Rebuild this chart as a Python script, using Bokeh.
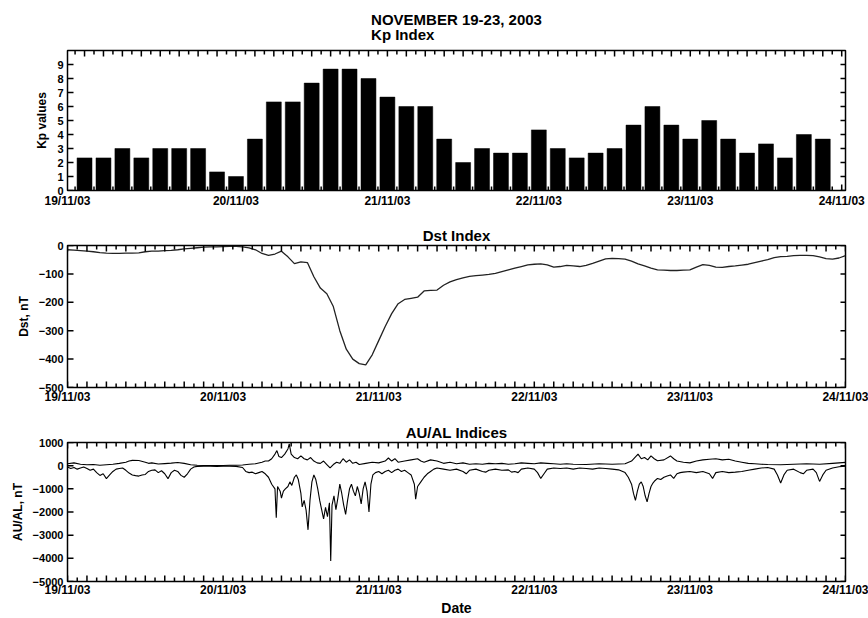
from bokeh.plotting import figure
from bokeh.models import FixedTicker, Range1d
from bokeh.layouts import column
from bokeh.embed import file_html
from bokeh.resources import INLINE

FONT = "Liberation Sans"

main_title = "NOVEMBER 19-23, 2003"
panel_titles = ["Kp Index", "Dst Index", "AU/AL Indices"]
y_labels = ["Kp values", "Dst, nT", "AU/AL, nT"]
x_label = "Date"
day_labels = ["19/11/03", "20/11/03", "21/11/03", "22/11/03", "23/11/03", "24/11/03"]

# Kp, 3-hourly, 19-23 Nov 2003 (40 bars)
kp_values = [2.33, 2.33, 3.0, 2.33, 3.0, 3.0, 3.0, 1.33,
             1.0, 3.67, 6.33, 6.33, 7.67, 8.67, 8.67, 8.0,
             6.67, 6.0, 6.0, 3.67, 2.0, 3.0, 2.67, 2.67,
             4.33, 3.0, 2.33, 2.67, 3.0, 4.67, 6.0, 4.67,
             3.67, 5.0, 3.67, 2.67, 3.33, 2.33, 4.0, 3.67]
kp_index = list(range(len(kp_values)))
kp_day_positions = [-0.9, 8, 16, 24, 32, 40]

# Dst, hourly (hours since 19 Nov 00 UT)
dst_values = [-15, -16, -18, -20, -22, -25, -27, -28, -28, -27, -27, -26,
              -22, -20, -20, -18, -17, -15, -12, -10, -8, -6, -5, -5,
              -4, -3, -3, -5, -8, -15, -28, -35, -30, -20, -40, -64,
              -58, -60, -110, -150, -170, -215, -300, -365, -400, -416, -420, -385,
              -335, -285, -240, -205, -190, -186, -182, -160, -158, -157, -140, -128,
              -120, -114, -109, -106, -104, -102, -98, -92, -86, -80, -74, -68,
              -66, -65, -68, -76, -74, -70, -72, -74, -70, -63, -55, -47,
              -45, -46, -48, -55, -65, -72, -80, -86, -87, -88, -88, -87,
              -86, -76, -67, -70, -76, -77, -74, -72, -69, -66, -60, -55,
              -50, -43, -39, -38, -36, -35, -35, -36, -40, -46, -48, -44, -36]
dst_hours = list(range(len(dst_values)))

# AL (hour, nT)
al_series = [(0, -60), (0.5, -120), (1, -80), (1.5, -150), (2, -100), (2.5, -60), (3, -120),
             (3.5, -200), (4, -150), (4.5, -300), (5, -420), (5.5, -350), (6, -560), (6.5, -400),
             (7, -250), (7.5, -150), (8, -120), (8.5, -100), (9, -200), (9.5, -320), (10, -400),
             (10.5, -430), (11, -450), (11.5, -400), (12, -380), (12.5, -250), (13, -200),
             (13.5, -180), (14, -300), (14.5, -220), (15, -350), (15.5, -560), (16, -300),
             (16.5, -200), (17, -250), (17.5, -420), (18, -500), (18.5, -350), (19, -150),
             (19.5, -60), (20, -30), (21, -20), (22, -20), (23, -30), (24, -20), (25, -20),
             (26, -30), (27, -80), (27.5, -250), (28, -300), (28.5, -280), (29, -350),
             (29.5, -300), (30, -250), (30.5, -350), (31, -500), (31.5, -800), (32, -1000),
             (32.2, -2250), (32.4, -900), (32.8, -1100), (33, -1400), (33.3, -1100),
             (33.6, -1000), (34, -900), (34.3, -700), (34.6, -850), (35, -500), (35.3, -400),
             (35.6, -600), (36, -1200), (36.2, -1780), (36.5, -1500), (36.8, -1920),
             (37.1, -2770), (37.4, -1500), (37.7, -700), (38, -400), (38.3, -600),
             (38.6, -1000), (38.9, -1500), (39.2, -1900), (39.5, -2300), (39.8, -1800),
             (40.1, -2200), (40.4, -1600), (40.6, -4110), (40.8, -1700), (41.1, -1300),
             (41.4, -1900), (41.7, -1400), (42, -800), (42.3, -1200), (42.6, -1700),
             (42.9, -2100), (43.2, -1500), (43.5, -1000), (43.8, -800), (44.1, -1100),
             (44.4, -1300), (44.7, -900), (45, -1200), (45.3, -1650), (45.6, -1000),
             (45.9, -700), (46.2, -1100), (46.5, -2000), (46.8, -800), (47.1, -400),
             (47.5, -300), (48, -250), (48.5, -350), (49, -250), (49.5, -200), (50, -300),
             (50.5, -200), (51, -150), (51.5, -250), (52, -200), (52.5, -300), (53, -400),
             (53.5, -800), (53.7, -1450), (54, -900), (54.5, -700), (55, -500), (55.5, -350),
             (56, -250), (56.5, -150), (57, -100), (58, -150), (59, -200), (60, -150),
             (61, -250), (61.5, -350), (62, -200), (63, -150), (64, -250), (64.5, -280),
             (65, -200), (66, -150), (67, -200), (68, -180), (68.5, -280), (69, -250),
             (69.5, -300), (70, -150), (71, -100), (72, -150), (72.5, -300), (73, -550),
             (73.5, -350), (74, -150), (75, -100), (76, -120), (77, -100), (78, -150),
             (79, -100), (80, -120), (81, -150), (82, -100), (83, -120), (84, -150),
             (85, -180), (86, -300), (86.5, -500), (87, -800), (87.3, -1200), (87.6, -1500),
             (87.9, -1100), (88.2, -800), (88.5, -700), (88.8, -900), (89.1, -1300),
             (89.4, -1560), (89.7, -1200), (90, -900), (90.3, -750), (90.6, -650),
             (91, -550), (91.5, -600), (92, -500), (92.5, -450), (93, -400), (93.5, -550),
             (94, -350), (94.5, -300), (95, -280), (96, -250), (97, -300), (98, -250),
             (99, -350), (99.5, -550), (100, -300), (101, -250), (102, -300), (103, -280),
             (104, -250), (105, -200), (106, -150), (107, -100), (108, -80), (109, -150),
             (109.5, -400), (110, -750), (110.5, -400), (111, -200), (112, -150),
             (113, -300), (113.5, -350), (114, -200), (115, -150), (115.5, -300),
             (116, -680), (116.5, -400), (117, -200), (118, -100), (119, -50), (120, -20)]

# AU (hour, nT)
au_series = [(0, 80), (1, 120), (2, 60), (3, 40), (4, 50), (5, 20), (6, 40), (7, 60), (8, 100),
             (9, 150), (9.5, 200), (10, 230), (11, 220), (12, 150), (12.5, 100), (13, 120),
             (14, 70), (15, 90), (16, 110), (17, 140), (18, 100), (19, 40), (20, 20), (21, 10),
             (22, 10), (23, 10), (24, 10), (25, 20), (26, 20), (27, 30), (28, 60), (29, 80),
             (30, 150), (30.5, 200), (31, 200), (31.5, 300), (32, 500), (32.3, 650),
             (32.6, 400), (33, 350), (33.5, 500), (34, 720), (34.2, 940), (34.5, 500),
             (35, 350), (35.5, 300), (36, 420), (36.5, 300), (37, 250), (37.5, 350),
             (38, 200), (38.5, 120), (39, 100), (39.5, 200), (40, 50), (40.5, -100),
             (41, 50), (41.5, 150), (42, 100), (42.5, 300), (43, 150), (43.5, 250),
             (44, 100), (44.5, 150), (45, 50), (46, 100), (47, 150), (48, 120), (49, 200),
             (49.5, 330), (50, 200), (50.5, 300), (51, 150), (52, 200), (53, 250), (54, 300),
             (54.5, 200), (55, 150), (56, 250), (57, 200), (58, 100), (59, 150), (60, 80),
             (61, 120), (62, 60), (63, 80), (64, 60), (65, 100), (66, 80), (67, 100),
             (68, 60), (69, 80), (70, 120), (71, 100), (72, 80), (73, 120), (74, 100),
             (75, 80), (76, 60), (77, 80), (78, 60), (80, 50), (82, 80), (84, 60), (86, 80),
             (87, 200), (87.5, 350), (88, 500), (88.5, 300), (89, 350), (89.5, 250),
             (90, 420), (90.5, 300), (91, 210), (92, 250), (93, 420), (93.5, 300), (94, 200),
             (95, 150), (96, 120), (97, 200), (98, 250), (99, 280), (100, 300), (101, 250),
             (102, 280), (103, 200), (104, 150), (105, 100), (106, 80), (107, 60), (108, 50),
             (110, 40), (112, 60), (114, 80), (116, 60), (118, 100), (120, 140)]

al_hours = [t for t, v in al_series]
al_values = [v for t, v in al_series]
au_hours = [t for t, v in au_series]
au_values = [v for t, v in au_series]

dst_yticks = [-500, -400, -300, -200, -100, 0]
auel_yticks = [-5000, -4000, -3000, -2000, -1000, 0, 1000]
kp_yticks = list(range(10))

# tick positions along the time axes (hours) and along the Kp bar index
h_long = list(range(0, 121, 3))
h_short = [1.5 + 3 * k for k in range(40)]
kp_long = list(range(0, 41))
kp_short = [i + 0.5 for i in range(-1, 40)]
day_ticks = [24 * i for i in range(6)]

W = 868
LEFT = 67
RIGHT = 23
FRAME_W = W - LEFT - RIGHT


def style_axis(ax, size):
    ax.major_tick_in = 0
    ax.major_tick_out = 0
    ax.minor_tick_in = 0
    ax.minor_tick_out = 0
    ax.major_tick_line_color = None
    ax.minor_tick_line_color = None
    ax.axis_line_color = "black"
    ax.axis_line_width = 1
    ax.major_label_text_font = FONT
    ax.major_label_text_font_style = "bold"
    ax.major_label_text_color = "black"
    ax.major_label_text_font_size = size
    ax.major_label_standoff = 4
    ax.axis_label_text_font = FONT
    ax.axis_label_text_font_style = "bold"
    ax.axis_label_text_color = "black"


def make_fig(height, top, bottom, xr, yr, title, title_standoff):
    p = figure(width=W, height=height, x_range=Range1d(*xr), y_range=Range1d(*yr),
               output_backend="svg", toolbar_location=None, title=title,
               min_border_left=LEFT, min_border_right=RIGHT,
               min_border_top=top, min_border_bottom=bottom)
    p.grid.visible = False
    p.outline_line_color = "black"
    p.outline_line_width = 1.5
    p.background_fill_color = "white"
    p.border_fill_color = "white"
    p.title.align = "center"
    p.title.text_font = FONT
    p.title.text_font_size = "15px"
    p.title.text_font_style = "bold"
    p.title.text_color = "black"
    p.title.standoff = title_standoff
    return p


def add_inward_ticks(p, xr, yr, frame_h, x_long, x_short, y_ticks):
    """Inward-pointing tick marks on all four frame edges (IDL style)."""
    dy = (yr[1] - yr[0]) / frame_h
    dx = (xr[1] - xr[0]) / FRAME_W
    xs = x_long + x_short
    lens = [6] * len(x_long) + [4] * len(x_short)
    x0, y0, x1, y1 = [], [], [], []
    for x, L in zip(xs, lens):
        x0 += [x, x]
        x1 += [x, x]
        y0 += [yr[0], yr[1]]
        y1 += [yr[0] + L * dy, yr[1] - L * dy]
    for y in y_ticks:
        x0 += [xr[0], xr[1]]
        x1 += [xr[0] + 6 * dx, xr[1] - 5 * dx]
        y0 += [y, y]
        y1 += [y, y]
    p.segment(x0=x0, y0=y0, x1=x1, y1=y1, line_color="black", line_width=1.5)


# ---------- Kp panel ----------
KP_H = 140
kp_xr, kp_yr = (-0.9, 40.2), (0, 10)
p1 = make_fig(222, 50, 32, kp_xr, kp_yr, main_title + "\n" + panel_titles[0], 14)
p1.title.text_line_height = 0.9
p1.xaxis.ticker = FixedTicker(ticks=kp_day_positions)
p1.xaxis.major_label_overrides = dict(zip(kp_day_positions, day_labels))
p1.yaxis.ticker = FixedTicker(ticks=kp_yticks)
p1.yaxis.axis_label = y_labels[0]
for ax in p1.xaxis:
    style_axis(ax, "12px")
    ax.major_label_standoff = 3
for ax in p1.yaxis:
    style_axis(ax, "11px")
    ax.axis_label_text_font_size = "12px"
    ax.axis_label_standoff = 5
p1.vbar(x=kp_index, top=kp_values, width=0.79, bottom=0,
        fill_color="black", line_color="black", line_width=0.5)
add_inward_ticks(p1, kp_xr, kp_yr, KP_H, kp_long, kp_short, kp_yticks)

# ---------- Dst panel ----------
dst_xr, dst_yr = (0, 120), (-500, 0)
p2 = make_fig(197, 23, 32, dst_xr, dst_yr, panel_titles[1], 4)
p2.xaxis.ticker = FixedTicker(ticks=day_ticks)
p2.xaxis.major_label_overrides = dict(zip(day_ticks, day_labels))
p2.yaxis.ticker = FixedTicker(ticks=dst_yticks)
p2.yaxis.axis_label = y_labels[1]
for ax in p2.xaxis:
    style_axis(ax, "12px")
    ax.major_label_standoff = 2
for ax in p2.yaxis:
    style_axis(ax, "11px")
    ax.axis_label_text_font_size = "12px"
    ax.axis_label_standoff = 5
p2.line(dst_hours, dst_values, line_color="#222222", line_width=1.3)
add_inward_ticks(p2, dst_xr, dst_yr, 142, h_long, h_short, dst_yticks)

# ---------- AU/AL panel ----------
aa_xr, aa_yr = (0, 120), (-5000, 1000)
p3 = make_fig(199, 23, 35, aa_xr, aa_yr, panel_titles[2], 4)
p3.xaxis.ticker = FixedTicker(ticks=day_ticks)
p3.xaxis.major_label_overrides = dict(zip(day_ticks, day_labels))
p3.xaxis.axis_label = x_label
p3.yaxis.ticker = FixedTicker(ticks=auel_yticks)
p3.yaxis.axis_label = y_labels[2]
for ax in p3.xaxis:
    style_axis(ax, "12px")
    ax.major_label_standoff = 1
    ax.axis_label_text_font_size = "14px"
    ax.axis_label_standoff = 0
for ax in p3.yaxis:
    style_axis(ax, "11px")
    ax.axis_label_text_font_size = "12px"
    ax.axis_label_standoff = 5
p3.line(au_hours, au_values, line_color="black", line_width=1.1)
p3.line(al_hours, al_values, line_color="black", line_width=1.1)
add_inward_ticks(p3, aa_xr, aa_yr, 141, h_long, h_short, auel_yticks)

layout = column(p1, p2, p3, spacing=0)
open("out.html", "w").write(file_html(layout, INLINE))
